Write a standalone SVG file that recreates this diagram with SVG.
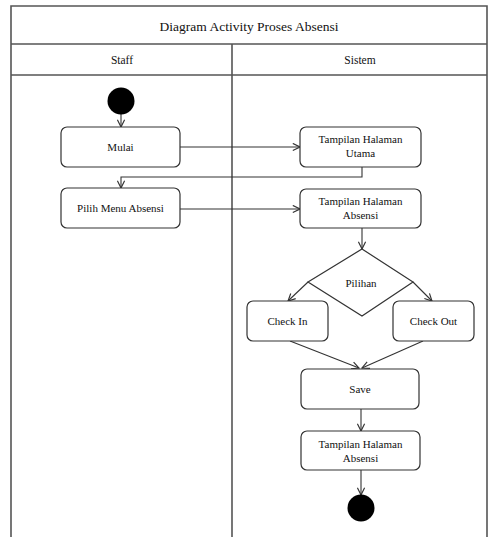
<svg xmlns="http://www.w3.org/2000/svg" width="491" height="537" viewBox="0 0 491 537">
<style>
text{font-family:"Liberation Serif","Times New Roman",serif;fill:#111;text-anchor:middle}
.t{font-size:13.5px}
.h{font-size:11.5px}
.n{font-size:11px}
.frame{fill:none;stroke:#555;stroke-width:1.6}
.box{fill:#fff;stroke:#333;stroke-width:1.2}
.c{fill:none;stroke:#333;stroke-width:1.1}
</style>
<defs>
<marker id="a" viewBox="0 0 10 10" refX="9" refY="5" markerWidth="9" markerHeight="9" markerUnits="userSpaceOnUse" orient="auto">
<path d="M1,1 L9,5 L1,9" fill="none" stroke="#333" stroke-width="1.3"/>
</marker>
</defs>
<rect width="491" height="537" fill="#fff"/>
<g id="frame">
<path class="frame" d="M11,540 V6 H487 V540 M11,44 H487 M11,75 H487 M232,44 V540"/>
<text class="t" x="249" y="31">Diagram  Activity Proses Absensi</text>
<text class="h" x="122" y="64">Staff</text>
<text class="h" x="360" y="64">Sistem</text>
</g>
<g id="connectors">
<path class="c" d="M121,114 V127" marker-end="url(#a)"/>
<path class="c" d="M180,147 H300" marker-end="url(#a)"/>
<path class="c" d="M362,167 V177 H121 V188" marker-end="url(#a)"/>
<path class="c" d="M180,209 H300" marker-end="url(#a)"/>
<path class="c" d="M362,228 V249" marker-end="url(#a)"/>
<path class="c" d="M308,282 L288,301" marker-end="url(#a)"/>
<path class="c" d="M413,282 L432,301" marker-end="url(#a)"/>
<path class="c" d="M290,341 L359,368" marker-end="url(#a)"/>
<path class="c" d="M423,341 L362,368" marker-end="url(#a)"/>
<path class="c" d="M361,409 V431" marker-end="url(#a)"/>
<path class="c" d="M361,470 V495" marker-end="url(#a)"/>
</g>
<g id="start"><circle cx="121" cy="101" r="13.5" fill="#000"/></g>
<g id="mulai"><rect class="box" x="61" y="127" width="119" height="40" rx="6"/><text class="n" x="120.5" y="151">Mulai</text></g>
<g id="pilih"><rect class="box" x="61" y="188" width="119" height="40" rx="6"/><text class="n" x="120.5" y="212">Pilih Menu Absensi</text></g>
<g id="utama"><rect class="box" x="300" y="127" width="121" height="40" rx="6"/><text class="n" x="360.5" y="143">Tampilan Halaman</text><text class="n" x="360.5" y="157">Utama</text></g>
<g id="absensi1"><rect class="box" x="300" y="189" width="121" height="39" rx="6"/><text class="n" x="360.5" y="205">Tampilan Halaman</text><text class="n" x="360.5" y="219">Absensi</text></g>
<g id="pilihan"><polygon class="box" points="362,249 413,282 362,316 308,282"/><text class="n" x="361" y="287">Pilihan</text></g>
<g id="checkin"><rect class="box" x="247" y="301" width="81" height="40" rx="6"/><text class="n" x="287.5" y="325">Check In</text></g>
<g id="checkout"><rect class="box" x="393" y="301" width="81" height="40" rx="6"/><text class="n" x="433.5" y="325">Check Out</text></g>
<g id="save"><rect class="box" x="301" y="369" width="118" height="40" rx="6"/><text class="n" x="360" y="393">Save</text></g>
<g id="absensi2"><rect class="box" x="301" y="431" width="119" height="39" rx="6"/><text class="n" x="360.5" y="448">Tampilan Halaman</text><text class="n" x="360.5" y="462">Absensi</text></g>
<g id="end"><circle cx="361" cy="508" r="13.5" fill="#000"/></g>
</svg>
